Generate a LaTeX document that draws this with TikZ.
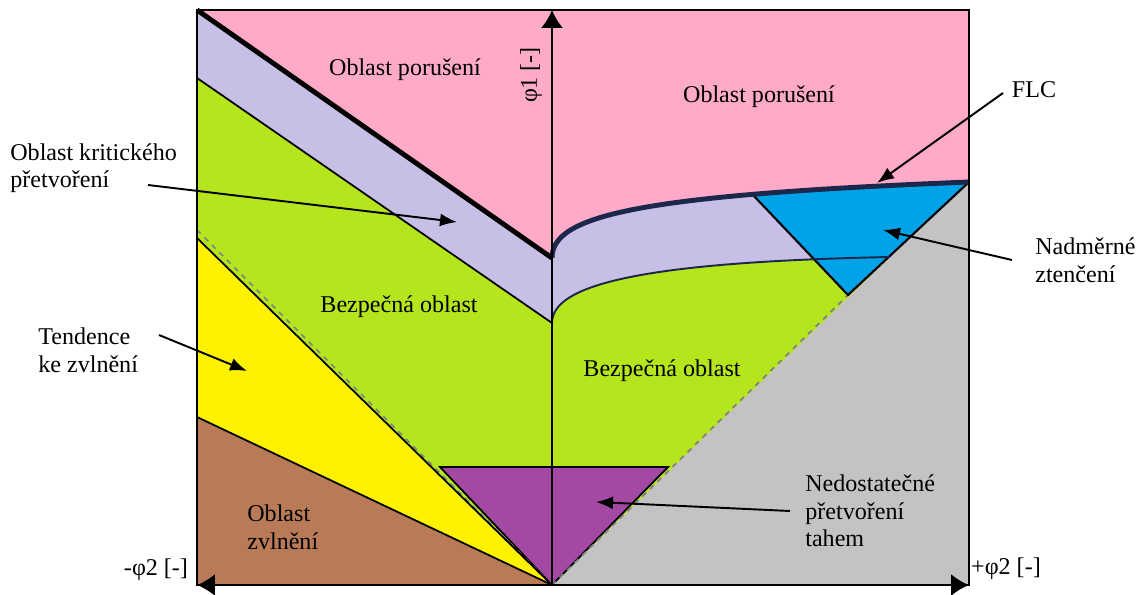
\documentclass[tikz,border=0pt]{standalone}
\usepackage{fontspec}
\setmainfont{Liberation Serif}
\usetikzlibrary{arrows.meta}
\definecolor{porus}{RGB}{255,170,200}
\definecolor{krit}{RGB}{200,191,231}
\definecolor{bezp}{RGB}{181,230,29}
\definecolor{vlna}{RGB}{255,242,0}
\definecolor{zvln}{RGB}{185,122,87}
\definecolor{sedy}{RGB}{195,195,195}
\definecolor{ztenc}{RGB}{0,162,232}
\definecolor{tahem}{RGB}{163,73,164}
\definecolor{navy}{RGB}{28,40,75}
\tikzset{
  lbl/.style={font=\fontsize{13.7}{15.7}\selectfont, inner sep=0pt},
  note/.style={lbl, align=left, anchor=west},
  pointer/.style={-{Latex[length=3.4mm,width=2.6mm]}, line width=1.1pt},
  axis/.style={line width=1.1pt},
  bound/.style={line width=1pt},
}

\begin{document}
\begin{tikzpicture}[x=0.02cm, y=-0.02cm]
              \useasboundingbox (0,0) rectangle (1140,595);
              % key points
              \coordinate (O) at (552,585);
              \coordinate (flcL) at (552,258);
              \coordinate (flcR) at (969,182);
              \coordinate (kritL) at (552,323);
              \coordinate (kritR) at (890,257);
              \coordinate (blueA) at (753,195);
              \coordinate (blueB) at (848,295);
              % areas
              \fill[porus] (197,10) rectangle (969,585);
              \fill[krit] (197,10) -- (flcL) -- (kritL) -- (197,78) -- cycle;
              \fill[bezp] (197,78) -- (kritL) -- (O) -- (197,238) -- cycle;
              \fill[vlna] (197,238) -- (O) -- (197,417) -- cycle;
              \fill[zvln] (197,417) -- (O) -- (197,585) -- cycle;
              \fill[krit] (flcL) .. controls (552,215) and (640,195) .. (flcR) -- (O) -- cycle;
              \fill[bezp] (kritL) .. controls (552,285) and (640,262) .. (kritR) -- (O) -- cycle;
              \fill[sedy] (O) -- (flcR) -- (969,585) -- cycle;
              \fill[ztenc] (blueA) -- (blueB) -- (flcR) -- cycle;
              \filldraw[tahem, draw=black, bound] (440,467) -- (668,467) -- (O) -- cycle;
              % boundaries
              \draw[bound] (197,78) -- (kritL);
              \draw[gray, dashed, bound] (197,230) -- (O);
              \draw[bound] (197,238) -- (O);
              \draw[bound] (197,417) -- (O);
              \draw[gray, dashed, bound] (O) -- (blueB);
              \draw[line width=1.2pt] (blueA) -- (blueB) -- (flcR);
              \draw[navy, line width=1.1pt] (kritL) .. controls (552,285) and (640,262) .. (kritR);
              \draw[navy, line width=2.8pt] (flcL) .. controls (552,215) and (640,195) .. (flcR);
              \draw[line width=2.8pt] (197,10) -- (flcL);
              \draw[bound] (197,10) rectangle (969,585);
              % axes
              \coordinate (yTop) at (552,10);
              \coordinate (xL) at (197,585);
              \coordinate (xR) at (969,585);
              \draw[axis, -{Latex[length=3.6mm,width=4.4mm]}] (O) -- (yTop);
              \draw[axis, {Latex[length=3.6mm,width=4.4mm]}-{Latex[length=3.6mm,width=4.4mm]}] (xL) -- (xR);
              \node[lbl, rotate=90] (phiOne) at (531,75) {φ1 [-]};
              \node[lbl] (phiMinus) at (156,570) {-φ2 [-]};
              \node[lbl] (phiPlus) at (1006,569) {+φ2 [-]};
              % area names
              \node[lbl] (porusL) at (405,70) {Oblast porušení};
              \node[lbl] (porusR) at (759,97) {Oblast porušení};
              \node[lbl] (bezpL) at (399,307) {Bezpečná oblast};
              \node[lbl] (bezpR) at (662,371) {Bezpečná oblast};
              \node[note] (zvlnText) at (247,527) {Oblast\\zvlnění};
              % callouts
              \node[note] (kritText) at (10,168) {Oblast kritického\\přetvoření};
              \node[note] (vlnaText) at (38,350) {Tendence\\ke zvlnění};
              \node[note] (tahText) at (805,511) {Nedostatečné\\přetvoření\\tahem};
              \node[lbl] (flcText) at (1034,90) {FLC};
              \node[note] (ztencText) at (1035,260) {Nadměrné\\ztenčení};
              \coordinate (kritTail) at (148,185);
              \coordinate (kritTip) at (457,222);
              \coordinate (vlnaTail) at (159,335);
              \coordinate (vlnaTip) at (247,371);
              \coordinate (tahTail) at (790,511);
              \coordinate (tahTip) at (596,502);
              \coordinate (flcTail) at (1003,93);
              \coordinate (flcTip) at (877,183);
              \coordinate (ztencTail) at (1012,260);
              \coordinate (ztencTip) at (883,230);
              \draw[pointer] (kritTail) -- (kritTip);
              \draw[pointer] (vlnaTail) -- (vlnaTip);
              \draw[pointer] (tahTail) -- (tahTip);
              \draw[pointer] (flcTail) -- (flcTip);
              \draw[pointer] (ztencTail) -- (ztencTip);
          \end{tikzpicture}
\end{document}
